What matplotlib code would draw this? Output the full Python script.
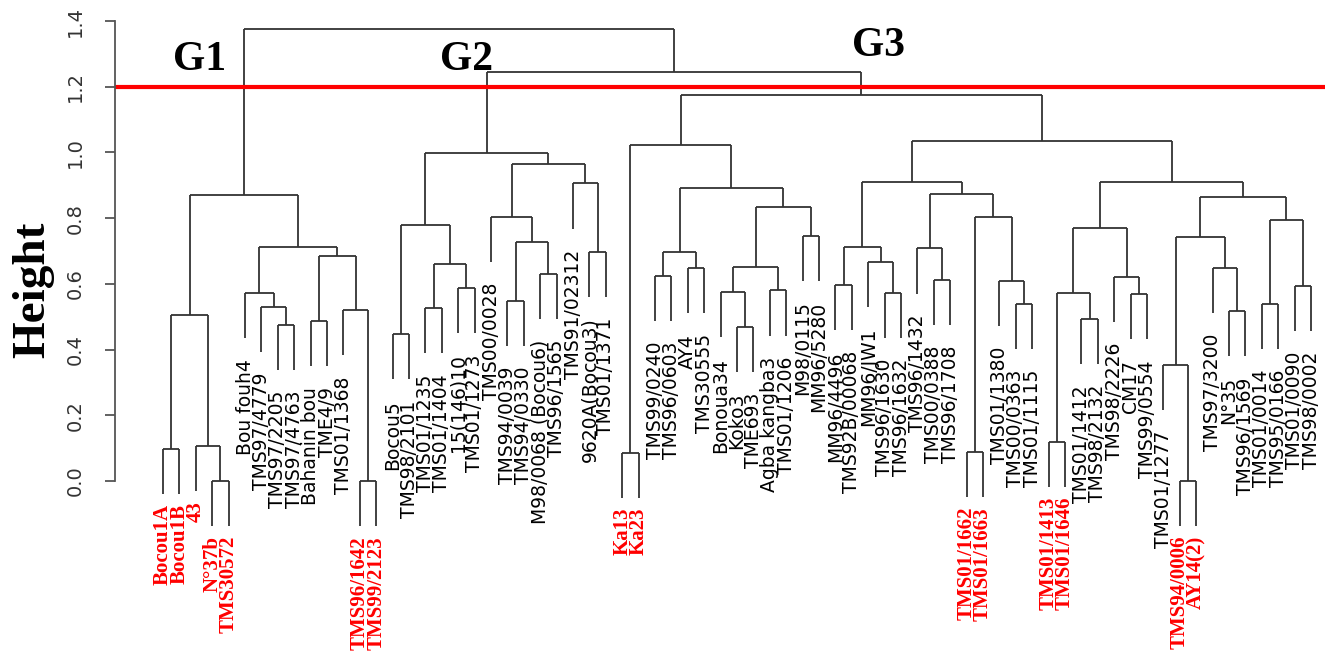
import matplotlib
matplotlib.use("Agg")
import matplotlib.pyplot as plt

# leaves in plotted order
labels = [
    "Bocou1A", "Bocou1B", "43", "N°37b", "TMS30572", "Bou fouh4", "TMS97/4779",
    "TMS97/2205", "TMS97/4763", "Bahanin bou", "TME4/9", "TMS01/1368",
    "TMS96/1642", "TMS99/2123", "Bocou5", "TMS98/2101", "TMS01/1235",
    "TMS01/1404", "15(146)10", "TMS01/1273", "TMS00/0028", "TMS94/0039",
    "TMS94/0330", "M98/0068 (Bocou6)", "TMS96/1565", "TMS91/02312",
    "9620A(Bocou3)", "TMS01/1371", "Ka13", "Ka23", "TMS99/0240", "TMS96/0603",
    "AY4", "TMS30555", "Bonoua34", "Koko3", "TME693", "Agba kangba3",
    "TMS01/1206", "M98/0115", "MM96/5280", "MM96/4496", "TMS92B/00068",
    "MM96/JW1", "TMS96/1630", "TMS96/1632", "TMS96/1432", "TMS00/0388",
    "TMS96/1708", "TMS01/1662", "TMS01/1663", "TMS01/1380", "TMS00/0363",
    "TMS01/1115", "TMS01/1413", "TMS01/1646", "TMS01/1412", "TMS98/2132",
    "TMS98/2226", "CM17", "TMS99/0554", "TMS01/1277", "TMS94/0006", "AY14(2)",
    "TMS97/3200", "N°35", "TMS96/1569", "TMS01/0014", "TMS95/0166",
    "TMS01/0090", "TMS98/0002",
]
highlight = {"Bocou1A", "Bocou1B", "43", "N°37b", "TMS30572", "TMS96/1642",
             "TMS99/2123", "Ka13", "Ka23", "TMS01/1662", "TMS01/1663",
             "TMS01/1413", "TMS01/1646", "TMS94/0006", "AY14(2)"}

# hclust style merges: negative = leaf (1-based), positive = earlier merge row
merge_a = [-1, -4, -3, 1, -8, -7, -6, -10, -13, -12, 8, 7, 4,
           -15, -17, -19, 15, 14, -22, -24, 19, -21, -27, -26, 22, 18,
           -29, -31, -33, 28, -36, -35, -38, 32, -40, 34, 30, 27,
           -42, -45, -44, 39, -48, -47, -50, -53, -52, 45, 44, 42,
           -55, -57, 51, -60, -59, 53, -63, -62, -66, -65, 58, -68, -70, 62, 61, 56,
           50, 38, 26, 13]
merge_b = [-2, -5, 2, 3, -9, 5, 6, -11, -14, 9, 10, 11, 12,
           -16, -18, -20, 16, 17, -23, -25, 20, 21, -28, 23, 24, 25,
           -30, -32, -34, 29, -37, 31, -39, 33, -41, 35, 36, 37,
           -43, -46, 40, 41, -49, 43, -51, -54, 46, 47, 48, 49,
           -56, -58, 52, -61, 54, 55, -64, 57, -67, 59, 60, -69, -71, 63, 64, 65,
           66, 67, 68, 69]
heights = [0.098, 0.0, 0.107, 0.505, 0.475, 0.53, 0.573, 0.487, 0.0, 0.52, 0.686, 0.712, 0.87,
           0.447, 0.526, 0.587, 0.66, 0.779, 0.548, 0.63, 0.728, 0.804, 0.698, 0.906, 0.964, 0.997,
           0.085, 0.625, 0.649, 0.696, 0.47, 0.576, 0.58, 0.651, 0.747, 0.835, 0.893, 1.024,
           0.596, 0.572, 0.667, 0.713, 0.612, 0.708, 0.088, 0.54, 0.61, 0.804, 0.875, 0.909,
           0.12, 0.493, 0.572, 0.569, 0.622, 0.771, 0.0, 0.353, 0.517, 0.648, 0.743, 0.539, 0.594,
           0.794, 0.865, 0.91, 1.035, 1.176, 1.245, 1.375]

cut_height = 1.2
groups = ["G1", "G2", "G3"]

hang = 0.1 * max(heights)
lc = "#333333"

fig = plt.figure(figsize=(13.25, 6.63), dpi=100)
ax = fig.add_axes([115 / 1325, 0, 1210 / 1325, 1])
ax.set_xlim(-1.93, 71.85)
ax.set_ylim(-0.554, 1.464)

node_x = {}


def child_pos(c, h):
    if c < 0:
        return c, float(-c), h - hang
    return c, node_x[c], heights[c - 1]


leaf_end = {}
for i, (a, b, h) in enumerate(zip(merge_a, merge_b, heights), start=1):
    pts = [child_pos(a, h), child_pos(b, h)]
    for c, x, y0 in pts:
        ax.plot([x, x], [y0, h], color=lc, lw=1.3, solid_capstyle="butt")
        if c < 0:
            leaf_end[-c] = y0
    ax.plot([pts[0][1], pts[1][1]], [h, h], color=lc, lw=1.3, solid_capstyle="butt")
    node_x[i] = (pts[0][1] + pts[1][1]) / 2

for k, lab in enumerate(labels, start=1):
    if lab in highlight:
        ax.annotate(lab, xy=(k, leaf_end[k]), xytext=(0, -7), textcoords="offset points",
                    rotation=90, ha="center", va="top", color="red",
                    family="Liberation Serif", weight="bold", fontsize=15)
    else:
        ax.annotate(lab, xy=(k, leaf_end[k]), xytext=(0, -15), textcoords="offset points",
                    rotation=90, ha="center", va="top", color="black",
                    family="DejaVu Sans", fontsize=13.5)

ax.axhline(cut_height, color="red", lw=3, xmin=0, xmax=1)

for g, x, y in zip(groups, [3.2, 19.5, 44.6], [1.28, 1.28, 1.325]):
    ax.text(x, y, g, family="Liberation Serif", weight="bold", fontsize=30,
            ha="center", va="center")

for s in ["top", "right", "bottom"]:
    ax.spines[s].set_visible(False)
ax.spines["left"].set_bounds(0, 1.4)
ax.spines["left"].set_color("#555555")
ax.spines["left"].set_linewidth(1.3)
ax.set_xticks([])
ax.set_yticks([0.0, 0.2, 0.4, 0.6, 0.8, 1.0, 1.2, 1.4])
ax.set_yticklabels(["0.0", "0.2", "0.4", "0.6", "0.8", "1.0", "1.2", "1.4"],
                   rotation=90, va="center", fontsize=14, color="#333333")
ax.tick_params(axis="y", length=7, width=1.3, color="#555555", pad=15)

fig.text(33 / 1325, 1 - 290 / 663, "Height", rotation=90, ha="center", va="center",
         family="Liberation Serif", weight="bold", fontsize=34)

fig.savefig("out.png", dpi=100)
